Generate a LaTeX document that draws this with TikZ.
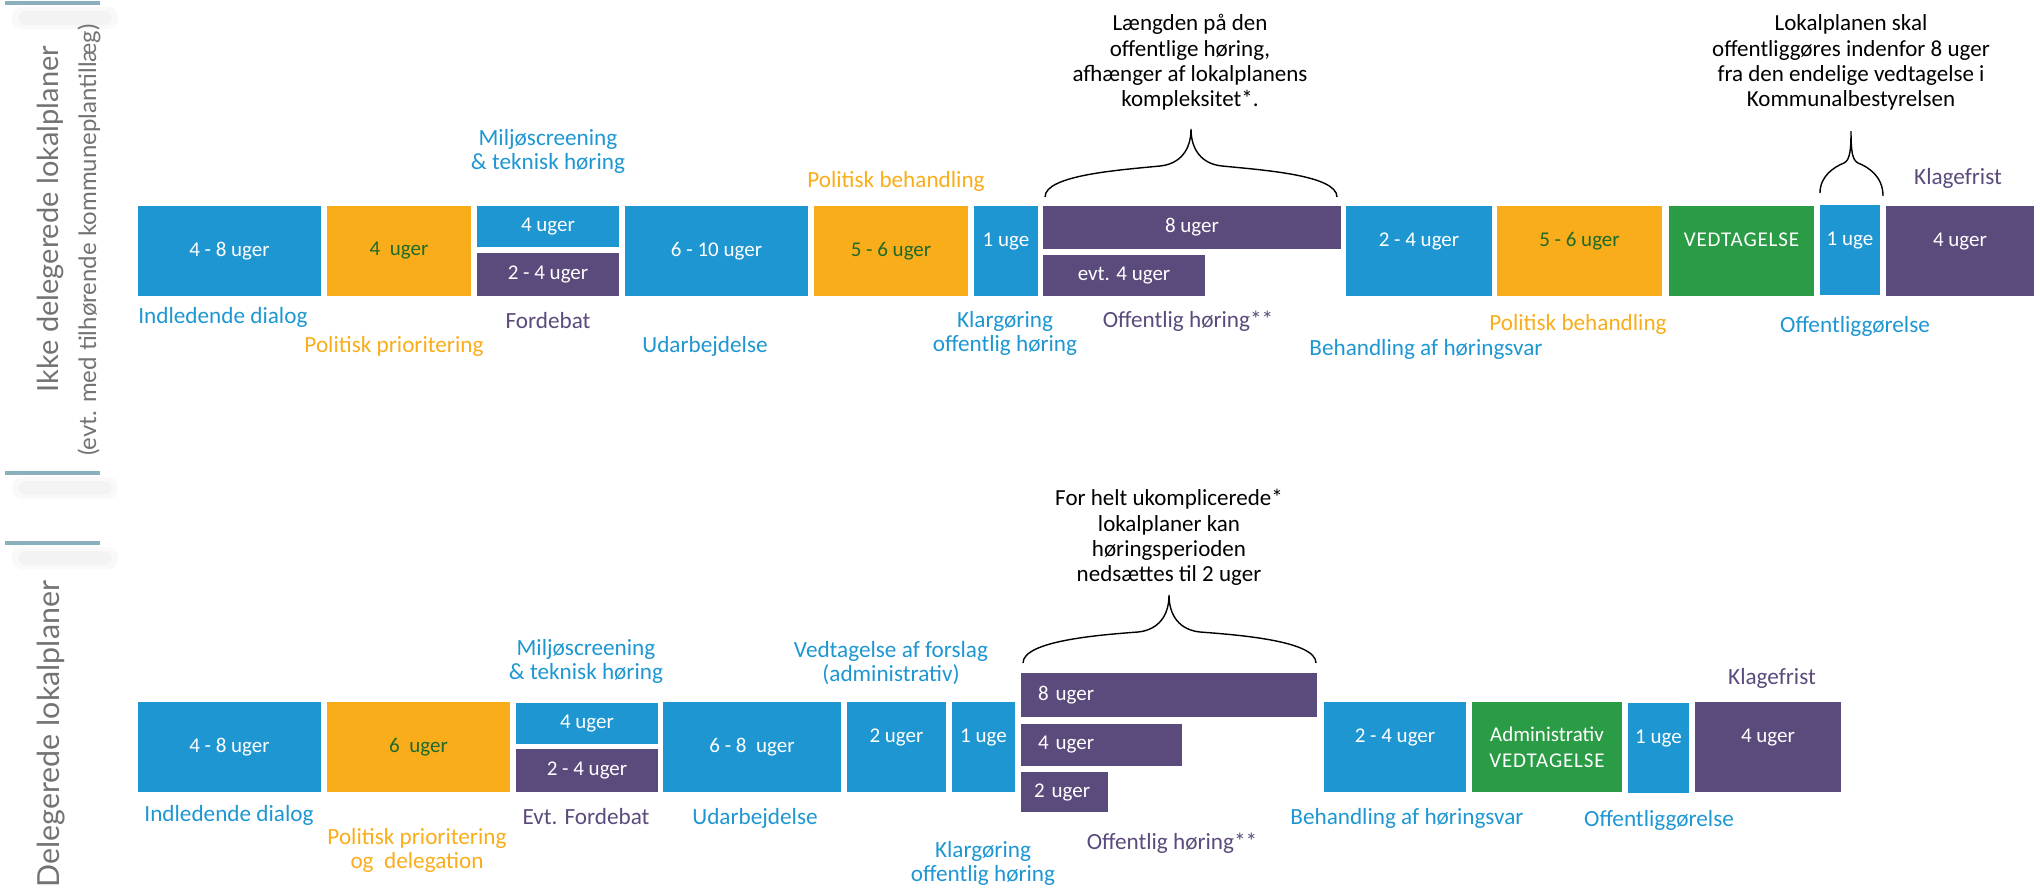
\documentclass[tikz,border=0pt]{standalone}
\usepackage{fontspec}
\setmainfont{Carlito}
\newfontfamily\sidefont{Lato}
\usepackage{tikz}

\definecolor{kblaa}{HTML}{1E96D2}
\definecolor{korange}{HTML}{F9AD1B}
\definecolor{klilla}{HTML}{5B4A7C}
\definecolor{kgroen}{HTML}{2B9C46}
\definecolor{kmoerk}{HTML}{1E6A28}
\definecolor{klinje}{HTML}{8AB0BE}

\tikzset{bred/.style={minimum width=#1*0.5pt},
         hoej/.style={minimum height=#1*0.5pt},
         venstre/.style={align=left,text width=#1*0.5pt}}

\begin{document}
\begin{tikzpicture}[x=0.5pt,y=-0.5pt]
            \tikzstyle{blok}=[rectangle,inner sep=0pt,text=white,minimum height=45pt,font=\fontsize{10.5}{12}\selectfont]
            \tikzstyle{op}=[text height=8pt,text depth=13pt]
            \tikzstyle{tekst}=[inner sep=0pt,align=center,font=\fontsize{11.6}{12}\selectfont]
            \tikzstyle{note}=[inner sep=0pt,align=center,font=\fontsize{11.5}{12.6}\selectfont]
            \tikzstyle{klamme}=[line width=0.7pt]
            \tikzstyle{side}=[inner sep=0pt,rotate=90,text=black!55,font=\sidefont]
                \useasboundingbox (0,0) rectangle (2040,889);

                \foreach \y in {3,473,543}{
                    \fill[black,opacity=0.025,rounded corners=5pt] (12,\y+4) rectangle (118,\y+26);
                    \fill[black,opacity=0.025,rounded corners=4pt] (18,\y+8) rectangle (112,\y+22);
                    \draw[klinje,line width=1.6pt] (5,\y) -- (100,\y);
                }

                \node[side,font=\sidefont\fontsize{14.5}{16}\selectfont] (S-1) at (50,219) {Ikke delegerede lokalplaner};
                \node[side,font=\sidefont\fontsize{12}{13}\selectfont] (S-2) at (89,240) {(evt. med tilhørende kommuneplantillæg)};
                \node[side,font=\sidefont\fontsize{15.2}{16}\selectfont] (S-3) at (51,734) {Delegerede lokalplaner};

                % ikke delegerede
                \node[blok,fill=kblaa,bred=183] (T-1) at (229.5,251) {4 - 8 uger};
                \node[blok,fill=korange,bred=144,text=kmoerk] (T-2) at (399,251) {4\ \ uger};
                \node[blok,fill=kblaa,bred=142,hoej=41] (T-3a) at (548,226.5) {4 uger};
                \node[blok,fill=klilla,bred=142,hoej=43] (T-3b) at (548,274.5) {2 - 4 uger};
                \node[blok,fill=kblaa,bred=183] (T-4) at (716.5,251) {6 - 10 uger};
                \node[blok,fill=korange,bred=154,text=kmoerk] (T-5) at (891,251) {5 - 6 uger};
                \node[blok,fill=kblaa,bred=64,op] (T-6) at (1006,251) {1 uge};
                \node[blok,fill=klilla,bred=298,hoej=43] (T-7a) at (1192,227.5) {8 uger};
                \node[blok,fill=klilla,bred=162,hoej=41] (T-7b) at (1124,275.5) {evt. 4 uger};
                \node[blok,fill=kblaa,bred=146,op] (T-8) at (1419,251) {2 - 4 uger};
                \node[blok,fill=korange,bred=165,op,text=kmoerk] (T-9) at (1579.5,251) {5 - 6 uger};
                \node[blok,fill=kgroen,bred=145,op] (T-10) at (1741.5,251) {\addfontfeature{LetterSpace=4}VEDTAGELSE};
                \node[blok,fill=kblaa,bred=60,op] (T-11) at (1850,250) {1 uge};
                \node[blok,fill=klilla,bred=148,op] (T-12) at (1960,251) {4 uger};

                \node[tekst,text=kblaa] (L-1) at (548,151) {Miljøscreening\\\& teknisk høring};
                \node[tekst,text=kblaa,anchor=west] (L-2) at (138,317) {Indledende dialog};
                \node[tekst,text=korange] (L-3) at (394,346) {Politisk prioritering};
                \node[tekst,text=klilla] (L-4) at (548,321) {Fordebat};
                \node[tekst,text=kblaa] (L-5) at (705,346) {Udarbejdelse};
                \node[tekst,text=korange] (L-6) at (896,181) {Politisk behandling};
                \node[tekst,text=kblaa] (L-7) at (1005,333.5) {Klargøring\\offentlig høring};
                \node[tekst,text=klilla] (L-8) at (1188,321) {Offentlig høring**};
                \node[tekst,text=kblaa] (L-9) at (1426,349) {Behandling af høringsvar};
                \node[tekst,text=korange] (L-10) at (1578,324) {Politisk behandling};
                \node[tekst,text=kblaa] (L-11) at (1855,326) {Offentliggørelse};
                \node[tekst,text=klilla] (L-12) at (1958,178) {Klagefrist};

                \node[note] (N-1) at (1190,62.5) {Længden på den\\offentlige høring,\\afhænger af lokalplanens\\kompleksitet*.};
                \node[note] (N-2) at (1851,62.5) {Lokalplanen skal\\offentliggøres indenfor 8 uger\\fra den endelige vedtagelse i\\Kommunalbestyrelsen};

                \draw[klamme] (1045,197) .. controls (1045,175) and (1120,170) .. (1160,166)
                    .. controls (1180,164) and (1191,150) .. (1191,129)
                    .. controls (1191,150) and (1202,164) .. (1222,166)
                    .. controls (1262,170) and (1337,175) .. (1337,197);
                \draw[klamme] (1820,193) .. controls (1820,176) and (1834,167) .. (1844,163)
                    .. controls (1850,160) and (1851,150) .. (1851,131)
                    .. controls (1851,150) and (1852,160) .. (1858,163)
                    .. controls (1868,167) and (1883,176) .. (1883,196);

                % delegerede
                \node[blok,fill=kblaa,bred=183] (B-1) at (229.5,747) {4 - 8 uger};
                \node[blok,fill=korange,bred=183,text=kmoerk] (B-2) at (418.5,747) {6\ \ uger};
                \node[blok,fill=kblaa,bred=142,hoej=41] (B-3a) at (587,723.5) {4 uger};
                \node[blok,fill=klilla,bred=142,hoej=43] (B-3b) at (587,770.5) {2 - 4 uger};
                \node[blok,fill=kblaa,bred=178] (B-4) at (752,747) {6 - 8\ \ uger};
                \node[blok,fill=kblaa,bred=99,op] (B-5) at (896.5,747) {2 uger};
                \node[blok,fill=kblaa,bred=63,op] (B-6) at (983.5,747) {1 uge};
                \node[blok,fill=klilla,bred=296,hoej=44,venstre=262] (B-7a) at (1169,695) {8 uger};
                \node[blok,fill=klilla,bred=161,hoej=42,venstre=127] (B-7b) at (1101.5,745) {4 uger};
                \node[blok,fill=klilla,bred=87,hoej=40,venstre=61] (B-7c) at (1064.5,792) {2 uger};
                \node[blok,fill=kblaa,bred=142,op] (B-8) at (1395,747) {2 - 4 uger};
                \node[blok,fill=kgroen,bred=150,align=center,font=\fontsize{10.5}{13}\selectfont] (B-9) at (1547,747) {Administrativ\\{\addfontfeature{LetterSpace=4}VEDTAGELSE}};
                \node[blok,fill=kblaa,bred=61,op] (B-10) at (1658.5,748) {1 uge};
                \node[blok,fill=klilla,bred=146,op] (B-11) at (1768,747) {4 uger};

                \node[tekst,text=kblaa] (M-1) at (586,661) {Miljøscreening\\\& teknisk høring};
                \node[tekst,text=kblaa] (M-2) at (229,815) {Indledende dialog};
                \node[tekst,text=korange] (M-3) at (417,850.5) {Politisk prioritering\\og\ \ delegation};
                \node[tekst,text=klilla] (M-4) at (586,817) {Evt. Fordebat};
                \node[tekst,text=kblaa] (M-5) at (755,818) {Udarbejdelse};
                \node[tekst,text=kblaa] (M-6) at (891,663.5) {Vedtagelse af forslag\\(administrativ)};
                \node[tekst,text=kblaa] (M-7) at (983,863) {Klargøring\\offentlig høring};
                \node[tekst,text=klilla] (M-8) at (1172,843) {Offentlig høring**};
                \node[tekst,text=kblaa] (M-9) at (1407,818) {Behandling af høringsvar};
                \node[tekst,text=kblaa] (M-10) at (1659,820) {Offentliggørelse};
                \node[tekst,text=klilla] (M-11) at (1772,678) {Klagefrist};

                \node[note] (N-3) at (1169,537.5) {For helt ukomplicerede*\\lokalplaner kan\\høringsperioden\\nedsættes til 2 uger};

                \draw[klamme] (1023,663) .. controls (1023,641) and (1098,635) .. (1138,632)
                    .. controls (1158,630) and (1169,616) .. (1169,595)
                    .. controls (1169,616) and (1180,630) .. (1200,632)
                    .. controls (1240,635) and (1316,641) .. (1316,663);
\end{tikzpicture}
\end{document}
